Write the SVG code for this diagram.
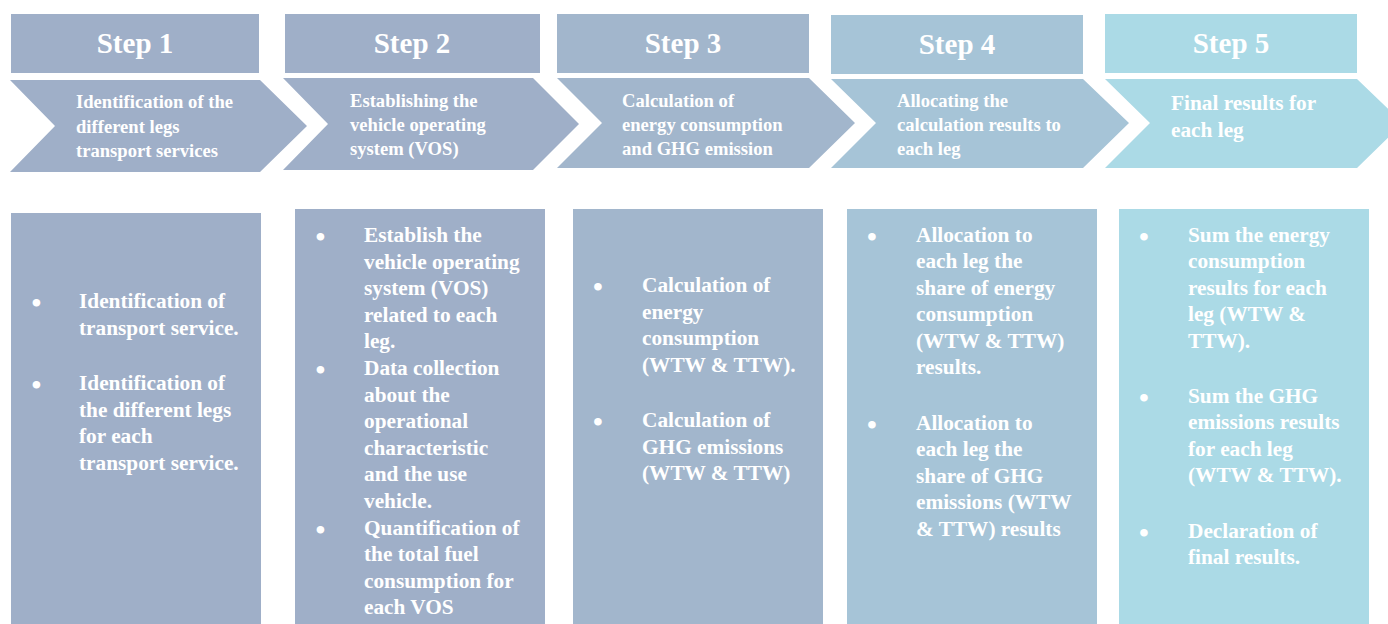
<svg xmlns="http://www.w3.org/2000/svg" width="1388" height="624" viewBox="0 0 1388 624">
<style>
.c1{fill:#9fafc8}
.c2{fill:#9fafc8}
.c3{fill:#a2b6cc}
.c4{fill:#a6c4d7}
.c5{fill:#abdae6}
text{font-family:"Liberation Serif","Times New Roman",serif;font-weight:bold;fill:#ffffff}
.hd{font-size:29px;text-anchor:middle}
.cv{font-size:18.6px}
.cv5{font-size:21.3px}
.bx{font-size:21.3px}
.bu{font-size:28px;text-anchor:middle}
</style>
<rect width="1388" height="624" fill="#ffffff"/>
<g id="step1">
<rect class="c1" x="11" y="14" width="248" height="59"/>
<text class="hd" x="135" y="53">Step 1</text>
<polygon class="c1" points="10,80 260,80 307,126 260,172 10,172 55,126"/>
<text class="cv" x="76" y="108">Identification of the</text>
<text class="cv" x="76" y="133">different legs</text>
<text class="cv" x="76" y="157">transport services</text>
<rect class="c1" x="11" y="213" width="250" height="411"/>
<text class="bu" x="36.5" y="312">•</text>
<text class="bx" x="79" y="308">Identification of</text>
<text class="bx" x="79" y="335">transport service.</text>
<text class="bu" x="36.5" y="394">•</text>
<text class="bx" x="79" y="390">Identification of</text>
<text class="bx" x="79" y="416.6">the different legs</text>
<text class="bx" x="79" y="443.2">for each</text>
<text class="bx" x="79" y="469.8">transport service.</text>
</g>
<g id="step2">
<rect class="c2" x="285" y="14" width="255" height="59"/>
<text class="hd" x="412" y="53">Step 2</text>
<polygon class="c2" points="283,78 533,78 579,124 533,170 283,170 328,124"/>
<text class="cv" x="350" y="107">Establishing the</text>
<text class="cv" x="350" y="131">vehicle operating</text>
<text class="cv" x="350" y="155">system (VOS)</text>
<rect class="c2" x="295" y="209" width="250" height="415"/>
<text class="bu" x="320.5" y="246">•</text>
<text class="bx" x="364" y="242">Establish the</text>
<text class="bx" x="364" y="268.6">vehicle operating</text>
<text class="bx" x="364" y="295.2">system (VOS)</text>
<text class="bx" x="364" y="321.8">related to each</text>
<text class="bx" x="364" y="348.4">leg.</text>
<text class="bu" x="320.5" y="379">•</text>
<text class="bx" x="364" y="375">Data collection</text>
<text class="bx" x="364" y="401.6">about the</text>
<text class="bx" x="364" y="428.2">operational</text>
<text class="bx" x="364" y="454.8">characteristic</text>
<text class="bx" x="364" y="481.4">and the use</text>
<text class="bx" x="364" y="508">vehicle.</text>
<text class="bu" x="320.5" y="538.6">•</text>
<text class="bx" x="364" y="534.6">Quantification of</text>
<text class="bx" x="364" y="561.2">the total fuel</text>
<text class="bx" x="364" y="587.8">consumption for</text>
<text class="bx" x="364" y="614.4">each VOS</text>
</g>
<g id="step3">
<rect class="c3" x="557" y="14" width="252" height="59"/>
<text class="hd" x="683" y="53">Step 3</text>
<polygon class="c3" points="557,78 809,78 855,123 809,168 557,168 602,123"/>
<text class="cv" x="622" y="107">Calculation of</text>
<text class="cv" x="622" y="131">energy consumption</text>
<text class="cv" x="622" y="155">and GHG emission</text>
<rect class="c3" x="573" y="209" width="250" height="415"/>
<text class="bu" x="598" y="296">•</text>
<text class="bx" x="642" y="292">Calculation of</text>
<text class="bx" x="642" y="318.6">energy</text>
<text class="bx" x="642" y="345.2">consumption</text>
<text class="bx" x="642" y="371.8">(WTW &amp; TTW).</text>
<text class="bu" x="598" y="431">•</text>
<text class="bx" x="642" y="427">Calculation of</text>
<text class="bx" x="642" y="453.6">GHG emissions</text>
<text class="bx" x="642" y="480.2">(WTW &amp; TTW)</text>
</g>
<g id="step4">
<rect class="c4" x="831" y="15" width="252" height="59"/>
<text class="hd" x="957" y="54">Step 4</text>
<polygon class="c4" points="831,79 1083,79 1129,123 1083,168 831,168 876,123"/>
<text class="cv" x="897" y="107">Allocating the</text>
<text class="cv" x="897" y="131">calculation results to</text>
<text class="cv" x="897" y="155">each leg</text>
<rect class="c4" x="847" y="209" width="250" height="415"/>
<text class="bu" x="872" y="246">•</text>
<text class="bx" x="916" y="242">Allocation to</text>
<text class="bx" x="916" y="268.4">each leg the</text>
<text class="bx" x="916" y="294.8">share of energy</text>
<text class="bx" x="916" y="321.2">consumption</text>
<text class="bx" x="916" y="347.6">(WTW &amp; TTW)</text>
<text class="bx" x="916" y="374">results.</text>
<text class="bu" x="872" y="434">•</text>
<text class="bx" x="916" y="430">Allocation to</text>
<text class="bx" x="916" y="456.4">each leg the</text>
<text class="bx" x="916" y="482.8">share of GHG</text>
<text class="bx" x="916" y="509.2">emissions (WTW</text>
<text class="bx" x="916" y="535.6">&amp; TTW) results</text>
</g>
<g id="step5">
<rect class="c5" x="1105" y="14" width="252" height="59"/>
<text class="hd" x="1231" y="53">Step 5</text>
<polygon class="c5" points="1105,79 1357,79 1403,123 1357,168 1105,168 1150,123"/>
<text class="cv5" x="1171" y="110">Final results for</text>
<text class="cv5" x="1171" y="137">each leg</text>
<rect class="c5" x="1119" y="209" width="250" height="415"/>
<text class="bu" x="1144" y="246">•</text>
<text class="bx" x="1188" y="242">Sum the energy</text>
<text class="bx" x="1188" y="268.4">consumption</text>
<text class="bx" x="1188" y="294.8">results for each</text>
<text class="bx" x="1188" y="321.2">leg (WTW &amp;</text>
<text class="bx" x="1188" y="347.6">TTW).</text>
<text class="bu" x="1144" y="407">•</text>
<text class="bx" x="1188" y="403">Sum the GHG</text>
<text class="bx" x="1188" y="429.4">emissions results</text>
<text class="bx" x="1188" y="455.8">for each leg</text>
<text class="bx" x="1188" y="482.2">(WTW &amp; TTW).</text>
<text class="bu" x="1144" y="542">•</text>
<text class="bx" x="1188" y="538">Declaration of</text>
<text class="bx" x="1188" y="564.4">final results.</text>
</g>
<g id="connectors"></g>
</svg>
